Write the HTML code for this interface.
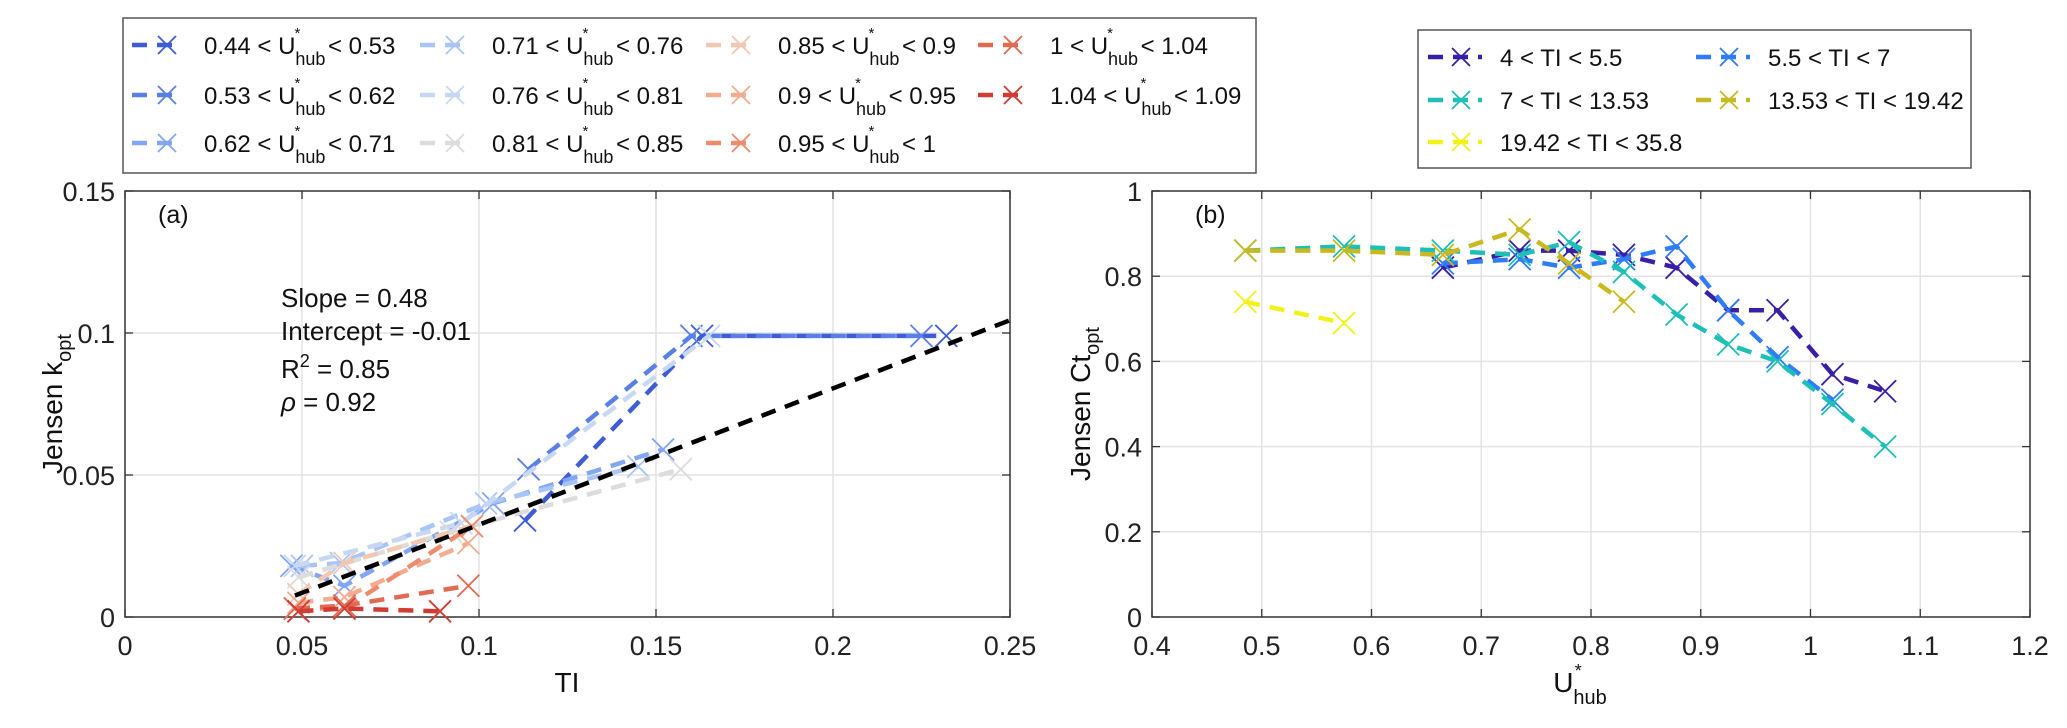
<!DOCTYPE html>
<html><head><meta charset="utf-8"><style>
html,body{margin:0;padding:0;background:#fff;}
svg{display:block;font-family:"Liberation Sans",Arial,sans-serif;}
</style></head><body>
<svg id="fig" width="2067" height="728" viewBox="0 0 2067 728" xmlns="http://www.w3.org/2000/svg"></svg>
<script>
// ---------- Panel (a) data ----------
const aLabels = ["0.44","0.53","0.62","0.71","0.76","0.81","0.85","0.9","0.95","1","1.04","1.09"];
const aColors = ["#3d5cd6","#5a7fe6","#82a6f5","#a9c5f8","#c8d8f3","#dcdcdc","#f3c8b2","#f4ab90","#ee8b6d","#e26a52","#d03c32"];
const aX = [
 [0.113,0.163,0.232],
 [0.114,0.160,0.225],
 [0.047,0.062,0.104,0.152],
 [0.050,0.061,0.102,0.145],
 [0.048,0.095,0.165],
 [0.049,0.092,0.157],
 [0.049,0.062,0.098],
 [0.049,0.062,0.097],
 [0.048,0.062,0.098],
 [0.048,0.062,0.097],
 [0.049,0.062,0.089]
];
const aY = [
 [0.034,0.099,0.099],
 [0.052,0.099,0.099],
 [0.018,0.011,0.040,0.059],
 [0.018,0.019,0.040,0.053],
 [0.018,0.033,0.099],
 [0.014,0.030,0.052],
 [0.008,0.019,0.032],
 [0.005,0.007,0.026],
 [0.003,0.003,0.032],
 [0.003,0.004,0.011],
 [0.002,0.003,0.002]
];
const fitX = [0.048,0.25];
const fitSlope = 0.48, fitIntercept = -0.0155;
const aXTicks = [0,0.05,0.1,0.15,0.2,0.25];
const aXTickLabels = ["0","0.05","0.1","0.15","0.2","0.25"];
const aYTicks = [0,0.05,0.1,0.15];
const aYTickLabels = ["0","0.05","0.1","0.15"];

// ---------- Panel (b) data ----------
const bLabels = ["4 < TI < 5.5","5.5 < TI < 7","7 < TI < 13.53","13.53 < TI < 19.42","19.42 < TI < 35.8"];
const bColors = ["#3a1fa6","#2f7cf6","#1ebfb6","#c9b920","#f2f21a"];
const bX = [
 [0.665,0.735,0.78,0.83,0.878,0.925,0.97,1.02,1.068],
 [0.665,0.735,0.78,0.83,0.878,0.925,0.97,1.02],
 [0.485,0.575,0.665,0.735,0.78,0.83,0.878,0.925,0.97,1.02,1.068],
 [0.485,0.575,0.665,0.735,0.78,0.83],
 [0.485,0.575]
];
const bY = [
 [0.82,0.86,0.86,0.85,0.82,0.72,0.72,0.57,0.53],
 [0.83,0.84,0.82,0.84,0.87,0.72,0.61,0.51],
 [0.86,0.87,0.86,0.85,0.88,0.81,0.71,0.64,0.60,0.50,0.40],
 [0.86,0.86,0.85,0.91,0.83,0.74],
 [0.74,0.69]
];
const bXTicks = [0.4,0.5,0.6,0.7,0.8,0.9,1,1.1,1.2];
const bXTickLabels = ["0.4","0.5","0.6","0.7","0.8","0.9","1","1.1","1.2"];
const bYTicks = [0,0.2,0.4,0.6,0.8,1];
const bYTickLabels = ["0","0.2","0.4","0.6","0.8","1"];

const NS="http://www.w3.org/2000/svg";
const svg=document.getElementById('fig');
function mk(tag,attrs,parent){const e=document.createElementNS(NS,tag);for(const k in attrs)e.setAttribute(k,attrs[k]);(parent||svg).appendChild(e);return e;}

const A={x0:125,x1:1010,y0:617,y1:191,xmin:0,xmax:0.25,ymin:0,ymax:0.15};
const B={x0:1152,x1:2030,y0:617,y1:191,xmin:0.4,xmax:1.2,ymin:0,ymax:1};
function sx(P,v){return P.x0+(v-P.xmin)/(P.xmax-P.xmin)*(P.x1-P.x0);}
function sy(P,v){return P.y0-(v-P.ymin)/(P.ymax-P.ymin)*(P.y0-P.y1);}

function drawAxes(P,xt,xtl,yt,ytl,name){
  const g=mk('g',{});
  
  
  xt.forEach((t,i)=>{const x=sx(P,t);
    if(i>0&&i<xt.length-1){const gl=mk('line',{x1:x,x2:x,y1:P.y0,y2:P.y1,stroke:'#e3e3e3','stroke-width':1.5},g);
      }
    mk('line',{x1:x,x2:x,y1:P.y0,y2:P.y0-8,stroke:'#333','stroke-width':1.3},g);
    mk('line',{x1:x,x2:x,y1:P.y1,y2:P.y1+8,stroke:'#333','stroke-width':1.3},g);
    const tl=mk('text',{x:x,y:P.y0+38,'font-size':27,'text-anchor':'middle',fill:'#222'},g);tl.textContent=xtl[i];
    
  });
  yt.forEach((t,i)=>{const y=sy(P,t);
    if(i>0&&i<yt.length-1){const gl=mk('line',{x1:P.x0,x2:P.x1,y1:y,y2:y,stroke:'#e3e3e3','stroke-width':1.5},g);
      }
    mk('line',{x1:P.x0,x2:P.x0+8,y1:y,y2:y,stroke:'#333','stroke-width':1.3},g);
    mk('line',{x1:P.x1,x2:P.x1-8,y1:y,y2:y,stroke:'#333','stroke-width':1.3},g);
    const tl=mk('text',{x:P.x0-10,y:y+10,'font-size':27,'text-anchor':'end',fill:'#222'},g);tl.textContent=ytl[i];
    
  });
  const box=mk('rect',{x:P.x0,y:P.y1,width:P.x1-P.x0,height:P.y0-P.y1,fill:'none',stroke:'#333','stroke-width':1.5},g);
  
}
function xMark(g,x,y,col,h){mk('path',{d:`M${x-h} ${y-h}L${x+h} ${y+h}M${x-h} ${y+h}L${x+h} ${y-h}`,stroke:col,'stroke-width':1.8,fill:'none'},g);}
function drawSeries(P,xs,ys,col,name){
  const g=mk('g',{});
  
  
  const pts=xs.map((v,i)=>sx(P,v)+','+sy(P,ys[i])).join(' ');
  mk('polyline',{points:pts,fill:'none',stroke:col,'stroke-width':4.5,'stroke-dasharray':'15 10'},g);
  xs.forEach((v,i)=>xMark(g,sx(P,v),sy(P,ys[i]),col,11));
}

drawAxes(A,aXTicks,aXTickLabels,aYTicks,aYTickLabels,'panel-a');
drawAxes(B,bXTicks,bXTickLabels,bYTicks,bYTickLabels,'panel-b');

aX.forEach((xs,i)=>drawSeries(A,xs,aY[i],aColors[i],'series-uhub-'+aLabels[i]+'-'+aLabels[i+1]));
{const f=mk('line',{x1:sx(A,fitX[0]),y1:sy(A,fitSlope*fitX[0]+fitIntercept),x2:sx(A,fitX[1]),y2:sy(A,fitSlope*fitX[1]+fitIntercept),stroke:'#000','stroke-width':4.5,'stroke-dasharray':'15 10'});
 }
bX.forEach((xs,i)=>drawSeries(B,xs,bY[i],bColors[i],'series-ti-'+i));

function txt(x,y,s,size,name,extra){const t=mk('text',Object.assign({x:x,y:y,'font-size':size,fill:'#111'},extra||{}));t.innerHTML=s;
  return t;}
txt(158,223,'(a)',25,'panel-a-label');
txt(1195,223,'(b)',25,'panel-b-label');
txt(281,307,'Slope = 0.48',26,'slope-annotation');
txt(281,340,'Intercept = -0.01',26,'intercept-annotation');
txt(281,378,'R<tspan dy="-11" font-size="18">2</tspan><tspan dy="11"> = 0.85</tspan>',26,'r2-annotation');
txt(281,411,'<tspan font-style="italic">ρ</tspan> = 0.92',26,'rho-annotation');
txt(567,692,'TI',28,'x-axis-title-a',{'text-anchor':'middle'});
txt(0,0,'Jensen k<tspan dy="9" font-size="20">opt</tspan>',28,'y-axis-title-a',{transform:'translate(62,404) rotate(-90)','text-anchor':'middle'});
txt(1580,692,'U<tspan dy="12" font-size="20">hub</tspan><tspan dx="-32" dy="-27" font-size="18">*</tspan>',28,'x-axis-title-b',{'text-anchor':'middle'});
txt(0,0,'Jensen Ct<tspan dy="9" font-size="20">opt</tspan>',28,'y-axis-title-b',{transform:'translate(1090,404) rotate(-90)','text-anchor':'middle'});

// ---------- Legend 1 ----------
{const g=mk('g',{});
 mk('rect',{x:123,y:18,width:1133,height:155,fill:'#fff',stroke:'#555','stroke-width':1.5},g);
 const colX=[132,420,706,978], rowY=[45,95,143];
 aColors.forEach((c,i)=>{const col=Math.floor(i/3),row=i%3;const x=colX[col],y=rowY[row];
   const e=mk('g',{},g);
   mk('line',{x1:x,y1:y,x2:x+50,y2:y,stroke:c,'stroke-width':4.5,'stroke-dasharray':'15 10'},e);
   xMark(e,x+35,y,c,9);
   const t=mk('text',{x:x+72,y:y+9,'font-size':24,fill:'#111'},e);
   t.innerHTML=aLabels[i]+' &lt; U<tspan dy="11" font-size="18">hub</tspan><tspan dx="-31" dy="-27" font-size="15">*</tspan><tspan dx="21" dy="16"> &lt; '+aLabels[i+1]+'</tspan>';
 });}
// ---------- Legend 2 ----------
{const g=mk('g',{});
 mk('rect',{x:1418,y:30,width:553,height:138,fill:'#fff',stroke:'#555','stroke-width':1.5},g);
 const colX=[1428,1696], rowY=[57,100,142];
 const order=[[0,0,0],[1,1,0],[2,0,1],[3,1,1],[4,0,2]];
 order.forEach(([i,col,row])=>{const x=colX[col],y=rowY[row],c=bColors[i];
   const e=mk('g',{},g);
   mk('line',{x1:x,y1:y,x2:x+54,y2:y,stroke:c,'stroke-width':4.5,'stroke-dasharray':'15 10'},e);
   xMark(e,x+33,y,c,9);
   const t=mk('text',{x:x+72,y:y+9,'font-size':24,fill:'#111'},e);t.innerHTML=bLabels[i].replace(/</g,'&lt;');
 });}
</script>
</body></html>
